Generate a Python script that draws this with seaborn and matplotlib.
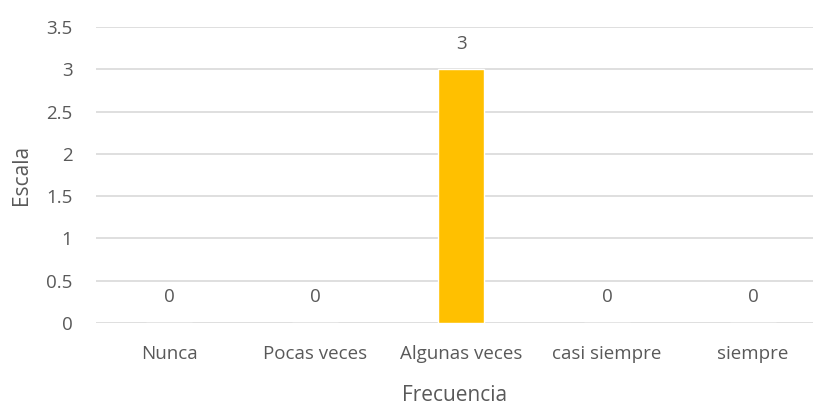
import numpy as np
import pandas as pd
import matplotlib
matplotlib.use("Agg")
import matplotlib.pyplot as plt
import seaborn as sns

categorias = ["Nunca", "Pocas veces", "Algunas veces", "casi siempre", "siempre"]
valores = [0, 0, 3, 0, 0]
y_ticks = [0, 0.5, 1, 1.5, 2, 2.5, 3, 3.5]
y_labels = ["0", "0.5", "1", "1.5", "2", "2.5", "3", "3.5"]

sns.set_style("white")
plt.rcParams["font.family"] = ["Open Sans", "DejaVu Sans"]

gris = "#595959"
df = pd.DataFrame({"Frecuencia": categorias, "Escala": valores})

fig = plt.figure(figsize=(8.13, 4.05), dpi=100)
ax = fig.add_axes([96 / 813, 1 - 323 / 405, 1 - 96 / 813, (323 - 27) / 405])

sns.barplot(data=df, x="Frecuencia", y="Escala", color="#FFC000",
            width=0.315, ax=ax, zorder=3, saturation=1)

ax.set_ylim(0, 3.5)
ax.set_xlim(-0.5, (813 - 96) / 146 - 0.5)
ax.set_yticks(y_ticks)
ax.set_yticklabels(y_labels)
ax.yaxis.grid(True, color="#D9D9D9", linewidth=1.2, zorder=0)
ax.set_axisbelow(True)
for s in ax.spines.values():
    s.set_visible(False)
ax.tick_params(axis="both", length=0, colors=gris, labelsize=13.5)
ax.tick_params(axis="y", pad=17)
ax.tick_params(axis="x", pad=16)

for i, v in enumerate(valores):
    ax.annotate(f"{v:g}", (i, v), xytext=(0, 12), textcoords="offset points",
                ha="center", va="bottom", color=gris, fontsize=13.5)

ax.set_xlabel("Frecuencia", color=gris, fontsize=15, labelpad=16)
ax.set_ylabel("Escala", color=gris, fontsize=15, labelpad=10)

fig.savefig("out.png", dpi=100)
plt.close(fig)
